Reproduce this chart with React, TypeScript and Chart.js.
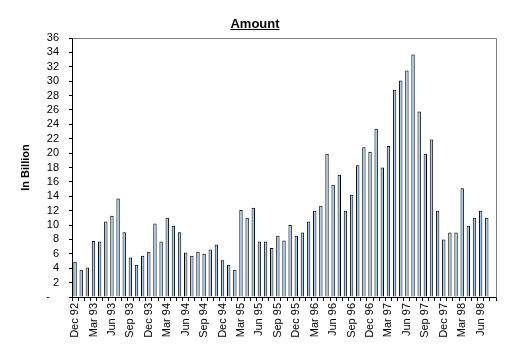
import React, { useEffect, useRef } from 'react';
import { Chart, registerables } from 'chart.js';
Chart.register(...registerables);

const categories = [
  'Dec 92', 'Jan 93', 'Feb 93', 'Mar 93', 'Apr 93', 'May 93', 'Jun 93', 'Jul 93', 'Aug 93', 'Sep 93', 'Oct 93', 'Nov 93',
  'Dec 93', 'Jan 94', 'Feb 94', 'Mar 94', 'Apr 94', 'May 94', 'Jun 94', 'Jul 94', 'Aug 94', 'Sep 94', 'Oct 94', 'Nov 94',
  'Dec 94', 'Jan 95', 'Feb 95', 'Mar 95', 'Apr 95', 'May 95', 'Jun 95', 'Jul 95', 'Aug 95', 'Sep 95', 'Oct 95', 'Nov 95',
  'Dec 95', 'Jan 96', 'Feb 96', 'Mar 96', 'Apr 96', 'May 96', 'Jun 96', 'Jul 96', 'Aug 96', 'Sep 96', 'Oct 96', 'Nov 96',
  'Dec 96', 'Jan 97', 'Feb 97', 'Mar 97', 'Apr 97', 'May 97', 'Jun 97', 'Jul 97', 'Aug 97', 'Sep 97', 'Oct 97', 'Nov 97',
  'Dec 97', 'Jan 98', 'Feb 98', 'Mar 98', 'Apr 98', 'May 98', 'Jun 98', 'Jul 98', 'Aug 98',
];

const amounts: (number | null)[] = [
  4.9, 3.8, 4.1, 7.8, 7.7, 10.5, 11.3, 13.7, 9.0, 5.5,
  4.5, 5.75, 6.3, 10.2, 7.7, 11.0, 9.9, 9.0, 6.2, 5.75,
  6.3, 6.0, 6.6, 7.3, 5.1, 4.5, 3.8, 12.1, 11.0, 12.4,
  7.7, 7.7, 6.8, 8.5, 7.85, 10.0, 8.5, 8.95, 10.5, 12.0,
  12.7, 19.9, 15.6, 17.0, 12.0, 14.2, 18.3, 20.8, 20.2, 23.4,
  18.0, 21.0, 28.8, 30.1, 31.5, 33.7, 25.8, 19.9, 21.9, 12.0,
  8.0, 8.95, 8.95, 15.1, 9.9, 11.0, 12.0, 11.0, null,
];

const titleText = 'Amount';
const yTitleText = 'In Billion';
const FONT = "'Liberation Sans', Arial, sans-serif";

const decorPlugin = {
  id: 'decor',
  afterDraw(chart: any) {
    const ctx = chart.ctx;
    const a = chart.chartArea;
    ctx.save();
    ctx.strokeStyle = '#808080';
    ctx.lineWidth = 1;
    ctx.beginPath();
    ctx.moveTo(Math.round(a.left) + 0.5, Math.round(a.top) + 0.5);
    ctx.lineTo(Math.round(a.right) + 0.5, Math.round(a.top) + 0.5);
    ctx.lineTo(Math.round(a.right) + 0.5, Math.round(a.bottom) + 0.5);
    ctx.stroke();
    ctx.fillStyle = '#000';
    ctx.font = `bold 13px ${FONT}`;
    ctx.textAlign = 'center';
    ctx.textBaseline = 'alphabetic';
    const tx = 255;
    const ty = 28;
    ctx.fillText(titleText, tx, ty);
    const w = ctx.measureText(titleText).width;
    ctx.fillRect(tx - w / 2, ty + 1, w, 1);
    ctx.font = `bold 11px ${FONT}`;
    ctx.translate(26, (a.top + a.bottom) / 2);
    ctx.rotate(-Math.PI / 2);
    ctx.textBaseline = 'middle';
    ctx.fillText(yTitleText, 0, 0);
    ctx.restore();
  },
};

export default function App() {
  const ref = useRef<HTMLCanvasElement>(null);
  useEffect(() => {
    if (!ref.current) return;
    const chart = new Chart(ref.current, {
      type: 'bar',
      data: {
        labels: categories,
        datasets: [
          {
            data: amounts,
            backgroundColor: '#A6CAF0',
            borderColor: '#000000',
            borderWidth: 1,
            barPercentage: 0.55,
            categoryPercentage: 1,
          },
        ],
      },
      options: {
        responsive: false,
        animation: false,
        layout: { padding: { top: 38, right: 13, left: 0, bottom: 0 } },
        plugins: { legend: { display: false }, title: { display: false }, tooltip: { enabled: false } },
        scales: {
          x: {
            grid: { display: true, drawOnChartArea: false, drawTicks: true, tickLength: 4, color: '#000', offset: true },
            border: { display: true, color: '#000' },
            ticks: {
              autoSkip: false,
              minRotation: 90,
              maxRotation: 90,
              padding: 2,
              color: '#000',
              font: { family: FONT, size: 11 },
              callback: (_v: any, i: number) => (i % 3 === 0 ? categories[i] : ''),
            },
            afterFit: (s: any) => { s.height = 60; },
          },
          y: {
            min: 0,
            max: 36,
            grid: { display: true, drawOnChartArea: false, drawTicks: true, tickLength: 3, color: '#000' },
            border: { display: true, color: '#000' },
            ticks: {
              stepSize: 2,
              autoSkip: false,
              padding: 10,
              color: '#000',
              font: { family: FONT, size: 11 },
              callback: (v: any) => (v === 0 ? '-   ' : String(v)),
            },
            afterFit: (s: any) => { s.width = 72; },
          },
        },
      },
      plugins: [decorPlugin],
    });
    return () => chart.destroy();
  }, []);
  return (
    <div style={{ position: 'absolute', left: 0, top: 0, width: 509, height: 357, background: '#fff' }}>
      <canvas ref={ref} width={509} height={357} />
    </div>
  );
}
